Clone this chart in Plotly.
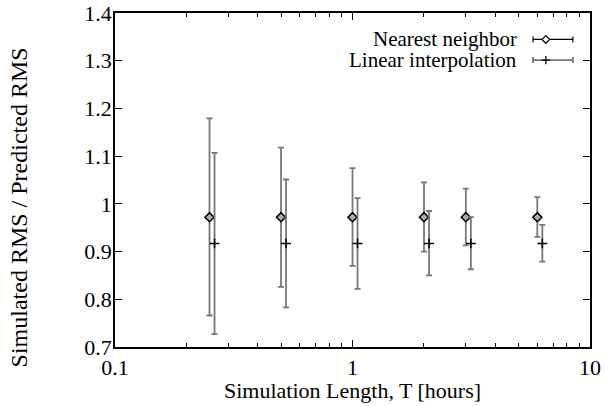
import plotly.graph_objects as go

# Data
T_nn = [0.25, 0.5, 1, 2, 3, 6]
T_lin = [0.2625, 0.525, 1.05, 2.1, 3.15, 6.3]
nn_mean = [0.972, 0.972, 0.972, 0.972, 0.972, 0.972]
nn_low = [0.766, 0.826, 0.870, 0.900, 0.913, 0.931]
nn_high = [1.179, 1.118, 1.075, 1.045, 1.032, 1.014]
lin_mean = [0.917, 0.917, 0.917, 0.917, 0.917, 0.917]
lin_low = [0.727, 0.783, 0.822, 0.850, 0.863, 0.879]
lin_high = [1.107, 1.051, 1.012, 0.985, 0.972, 0.956]

x_ticks = [0.1, 1, 10]
x_labels = ["0.1", "1", "10"]
y_ticks = [0.7, 0.8, 0.9, 1.0, 1.1, 1.2, 1.3, 1.4]
y_labels = ["0.7", "0.8", "0.9", "1", "1.1", "1.2", "1.3", "1.4"]
minor_x = [0.2, 0.3, 0.4, 0.5, 0.6, 0.7, 0.8, 0.9, 2, 3, 4, 5, 6, 7, 8, 9]

names = ["Nearest neighbor", "Linear interpolation"]
x_title = "Simulation Length, T [hours]"
y_title = "Simulated RMS / Predicted RMS"

FONT = "Liberation Serif"
FS = 22
ERR_COLOR = "#777777"

fig = go.Figure()

def add_series(x, m, lo, hi, symbol, size, fill):
    fig.add_trace(go.Scatter(
        x=x, y=m, mode="markers", showlegend=False,
        marker=dict(symbol=symbol, size=size, color=fill,
                    line=dict(color="black", width=1.5)),
        error_y=dict(type="data", symmetric=False,
                     array=[h - v for h, v in zip(hi, m)],
                     arrayminus=[v - l for l, v in zip(lo, m)],
                     color=ERR_COLOR, thickness=1.8, width=3),
    ))

add_series(T_nn, nn_mean, nn_low, nn_high, "diamond", 7, "#aaaaaa")
add_series(T_lin, lin_mean, lin_low, lin_high, "cross-thin", 7, "black")

# Legend drawn on an overlay axis (plot-area fraction coordinates)
leg_x = 0.907
leg_y = [0.921, 0.859]
leg_syms = [("diamond", 6, "white"), ("cross-thin", 6, "black")]
for i, (nm, (sym, sz, fill)) in enumerate(zip(names, leg_syms)):
    fig.add_trace(go.Scatter(
        x=[leg_x], y=[leg_y[i]], xaxis="x2", yaxis="y2", mode="markers", showlegend=False,
        marker=dict(symbol=sym, size=sz, color=fill,
                    line=dict(color="black", width=1.2)),
        error_x=dict(type="data", symmetric=False, array=[0.057], arrayminus=[0.027],
                     color="black" if i == 0 else ERR_COLOR,
                     thickness=1.2 if i == 0 else 1.8, width=3),
    ))
    fig.add_annotation(x=0.848, y=leg_y[i], xref="paper", yref="paper", text=nm,
                       showarrow=False, xanchor="right", yanchor="middle", borderpad=0,
                       font=dict(family=FONT, size=21, color="black"))

fig.add_annotation(x=0.5, y=-0.13, xref="paper", yref="paper", text=x_title,
                   showarrow=False, xanchor="center", yanchor="middle",
                   font=dict(family=FONT, size=FS, color="black"))
fig.add_annotation(x=-0.202, y=0.418, xref="paper", yref="paper", text=y_title, textangle=-90,
                   showarrow=False, xanchor="center", yanchor="middle",
                   font=dict(family=FONT, size=24, color="black"))

fig.update_layout(
    width=605, height=406,
    margin=dict(l=115, r=15, t=13, b=59, autoexpand=False),
    paper_bgcolor="white", plot_bgcolor="white",
    font=dict(family=FONT, size=FS, color="black"),
    xaxis=dict(type="log", range=[-1, 1], tickvals=x_ticks, ticktext=x_labels,
               ticks="inside", ticklen=7, tickwidth=1, tickcolor="black",
               showline=True, linecolor="black", linewidth=1.5, mirror="ticks",
               showgrid=False, zeroline=False, automargin=False, ticklabeloverflow="allow",
               minor=dict(tickvals=minor_x, ticks="inside", ticklen=4, tickcolor="black", showgrid=False)),
    yaxis=dict(range=[0.7, 1.4], tickvals=y_ticks, ticktext=y_labels,
               ticks="inside", ticklen=7, tickwidth=1, tickcolor="black",
               showline=True, linecolor="black", linewidth=1.5, mirror="ticks",
               showgrid=False, zeroline=False, automargin=False, ticklabeloverflow="allow",
               ticklabelstandoff=-3),
    xaxis2=dict(range=[0, 1], overlaying="x", visible=False, showgrid=False, fixedrange=True),
    yaxis2=dict(range=[0, 1], overlaying="y", visible=False, showgrid=False, fixedrange=True),
)

fig.write_html("out.html", config={"displayModeBar": False},
               post_script="document.body.style.margin='0';document.body.style.overflow='hidden';")
